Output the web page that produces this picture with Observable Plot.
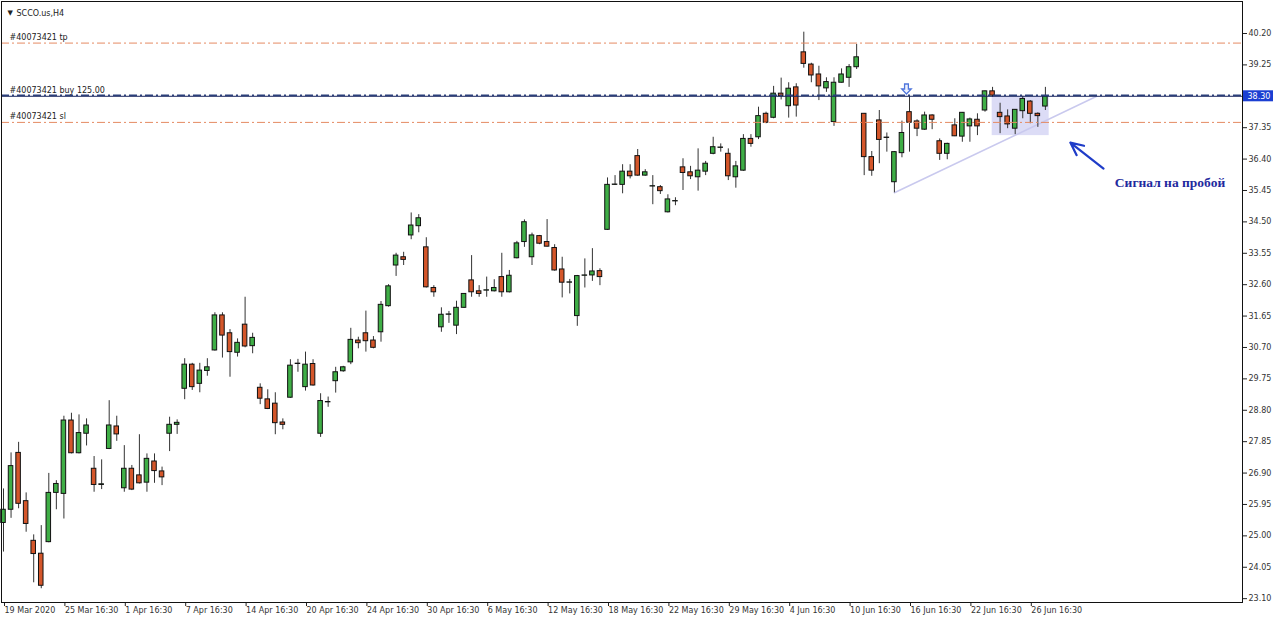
<!DOCTYPE html>
<html><head><meta charset="utf-8">
<script src="https://cdn.jsdelivr.net/npm/d3@7"></script>
<script src="https://cdn.jsdelivr.net/npm/@observablehq/plot@0.6"></script>
<style>html,body{margin:0;padding:0;background:#fff;} #chart svg{display:block}</style>
</head><body><div id="chart"></div>
<script>
const symbolTitle = "SCCO.us,H4";
const tickLabels = ["19 Mar 2020","25 Mar 16:30","1 Apr 16:30","7 Apr 16:30","14 Apr 16:30","20 Apr 16:30","24 Apr 16:30","30 Apr 16:30","6 May 16:30","12 May 16:30","18 May 16:30","22 May 16:30","29 May 16:30","4 Jun 16:30","10 Jun 16:30","16 Jun 16:30","22 Jun 16:30","26 Jun 16:30"];
const tickBars = [0,8,16,24,32,40,48,56,64,72,80,88,96,104,112,120,128,136];
const priceTicks = [23.10,24.05,25.00,25.95,26.90,27.85,28.80,29.75,30.70,31.65,32.60,33.55,34.50,35.45,36.40,37.35,38.30,39.25,40.20];

const open = [25.39,25.79,27.51,26.05,24.85,24.46,24.81,26.30,26.27,28.49,27.50,28.09,27.03,26.54,27.63,28.31,26.44,27.03,26.83,26.61,27.25,26.95,28.09,28.36,29.45,30.18,29.60,29.99,30.61,31.67,31.13,30.54,31.39,30.74,29.48,29.13,29.00,28.43,29.18,30.20,29.50,30.20,28.09,29.04,29.68,29.98,30.25,30.91,31.13,30.91,31.16,31.95,33.18,33.43,34.09,34.37,33.73,32.50,31.31,31.69,31.36,31.90,32.73,32.40,32.42,32.40,32.83,32.37,33.40,33.89,33.43,34.07,33.89,33.71,33.06,32.66,31.65,32.87,32.88,33.01,34.26,35.62,35.62,36.02,36.49,35.90,35.57,35.55,34.79,35.12,36.15,36.00,35.85,36.02,36.56,36.74,36.56,35.85,36.05,37.01,37.06,37.77,37.65,38.38,38.00,38.57,39.63,39.26,38.96,38.54,37.52,38.71,38.86,39.18,37.77,36.46,37.57,37.04,35.70,36.58,37.82,37.54,37.29,37.72,36.94,36.56,37.42,37.08,37.39,37.59,37.87,38.45,37.80,37.69,37.32,37.85,38.14,37.77,37.99];
const high = [26.42,27.51,27.83,26.30,25.03,25.31,26.89,26.67,28.62,28.71,28.66,28.54,27.40,27.30,29.09,28.62,27.73,27.13,28.06,27.48,27.48,27.08,28.59,28.51,30.36,30.22,30.22,30.36,31.75,31.75,31.24,30.96,32.22,31.13,29.60,29.42,29.33,28.54,30.33,30.34,30.56,30.33,29.30,29.20,30.10,30.13,31.28,31.01,31.80,31.03,32.09,32.60,33.55,33.58,34.77,34.72,34.02,32.57,31.90,31.79,32.10,32.33,33.48,32.57,32.83,32.75,33.55,33.03,33.91,34.56,34.16,34.09,34.57,33.81,33.43,32.76,32.88,33.38,33.69,33.08,35.83,35.90,36.23,36.23,36.69,36.08,35.90,35.60,35.32,35.23,36.41,36.18,36.71,36.33,37.06,36.86,36.71,36.33,37.14,37.14,37.97,37.82,38.60,38.85,38.71,38.68,40.24,39.30,39.21,38.86,38.86,39.13,39.26,39.87,37.78,36.63,37.87,37.19,36.63,37.55,38.29,37.59,37.82,37.74,37.01,36.88,37.62,37.81,37.64,37.77,38.46,38.57,38.09,37.89,37.90,38.30,38.17,37.80,38.57];
const low = [24.51,25.53,25.82,25.11,23.58,23.40,24.79,25.79,25.51,27.48,27.48,27.72,26.32,26.40,27.61,27.86,26.32,26.37,26.57,26.32,26.59,26.52,27.55,28.07,29.12,29.40,29.33,29.83,30.59,30.38,29.80,30.41,30.69,30.51,28.97,28.82,28.06,28.21,29.16,29.95,29.38,29.53,27.98,28.89,29.32,29.95,30.18,30.66,30.56,30.66,30.86,31.92,32.85,33.18,33.96,34.17,32.50,32.22,31.16,31.43,31.09,31.88,32.22,32.22,32.22,32.38,32.22,32.35,33.38,33.73,33.18,33.81,33.74,33.01,32.20,32.32,31.34,32.50,32.70,32.57,34.24,35.60,35.35,35.80,35.88,35.88,35.02,35.33,34.77,34.99,35.45,35.78,35.43,35.90,36.53,36.61,35.75,35.52,36.03,36.76,36.99,37.47,37.62,38.19,37.64,37.67,39.15,38.71,38.17,38.42,37.39,38.70,38.57,39.11,35.90,35.88,36.26,36.61,35.38,36.44,36.61,37.08,37.27,37.29,36.36,36.38,37.08,36.91,36.91,37.11,37.82,38.27,37.17,37.32,37.14,37.62,37.47,37.36,37.87];
const close = [25.79,27.11,25.97,25.36,24.45,23.49,26.30,26.57,28.49,27.50,28.11,28.34,26.54,26.56,28.34,28.07,27.03,26.40,26.59,27.33,26.96,26.77,28.36,28.42,30.18,29.50,30.00,30.10,31.67,31.06,30.56,30.84,30.73,30.99,29.15,28.84,28.41,28.36,30.15,30.21,30.18,29.55,29.08,29.05,29.95,30.10,30.93,30.83,30.89,30.69,31.99,32.55,33.48,33.35,34.39,34.61,32.52,32.37,31.69,31.70,31.90,32.32,32.37,32.32,32.43,32.50,32.37,32.87,33.85,34.49,34.09,33.84,33.75,33.03,32.66,32.67,32.86,32.88,33.00,32.83,35.62,35.63,36.02,35.88,35.90,36.00,35.58,35.43,35.18,35.13,35.98,35.88,36.05,36.26,36.76,36.75,35.88,36.18,37.01,36.86,37.70,37.50,38.38,38.30,38.53,38.02,39.28,38.93,38.60,38.73,38.71,38.96,39.18,39.48,36.46,36.05,36.98,37.05,36.61,37.19,37.50,37.32,37.72,37.59,36.56,36.86,37.09,37.80,37.60,37.39,38.45,38.32,37.67,37.45,37.89,38.22,37.77,37.70,38.30];

const orderLabels = ["#40073421 tp","#40073421 buy 125.00","#40073421 sl"];
const orderLevels = [39.91, 38.30, 37.51];
const currentPrice = 38.30;
const trendBars = [118, 144.8];
const trendPrices = [35.38, 38.30];
const zoneBars = [130.95, 138.5];
const zonePrices = [37.11, 38.30];
const signalBar = 119.6;
const signalPrice = 38.52;
const arrowBars = [145.7, 141.3];
const arrowPrices = [36.11, 36.90];
const noteText = "Сигнал на пробой";
const noteBar = 147.2;
const notePrice = 35.68;

const candles = open.map((o, i) => ({i, o, h: high[i], l: low[i], c: close[i]}));

const W = 1280, H = 622;
const mL = 1, mR = 38, mT = 1, mB = 20;
const barPx = 7.55, firstPx = 3;
const xDom = [(mL - firstPx) / barPx, (W - mR - firstPx) / barPx];
const pxPerUnit = 33.05, refPrice = 40.20, refPx = 33;
const yDom = [refPrice - (H - mB - refPx) / pxPerUnit, refPrice + (refPx - mT) / pxPerUnit];
const half = 0.3;
const green = "#3fae46", red = "#d4562a", orange = "#e58a62";

// hollow down-arrow symbol (trade marker)
const downArrow = {
  draw(ctx, size) {
    const s = Math.sqrt(size / Math.PI);
    const w = s * 0.38;
    ctx.moveTo(-w, -s);
    ctx.lineTo(w, -s);
    ctx.lineTo(w, 0);
    ctx.lineTo(s * 0.95, 0);
    ctx.lineTo(0, s);
    ctx.lineTo(-s * 0.95, 0);
    ctx.lineTo(-w, 0);
    ctx.closePath();
  }
};

const chart = Plot.plot({
  width: W, height: H,
  marginLeft: mL, marginRight: mR, marginTop: mT, marginBottom: mB,
  style: {fontFamily: "DejaVu Sans", fontSize: "8px", color: "#222", background: "#fff", overflow: "visible"},
  x: {type: "linear", domain: xDom},
  y: {type: "linear", domain: yDom},
  marks: [
    Plot.rect([0], {x1: zoneBars[0], x2: zoneBars[1], y1: zonePrices[0], y2: zonePrices[1], fill: "#dcdcf6"}),
    Plot.line([0, 1], {x: j => trendBars[j], y: j => trendPrices[j], stroke: "#c9c9ee", strokeWidth: 1.5}),
    Plot.ruleX(candles, {x: "i", y1: "l", y2: "h", stroke: "#333", strokeWidth: 1}),
    Plot.rect(candles, {x1: d => d.i - half, x2: d => d.i + half, y1: "o", y2: "c", fill: d => d.c >= d.o ? green : red, stroke: "#111", strokeWidth: 1}),
    Plot.ruleY([orderLevels[0], orderLevels[2]], {stroke: orange, strokeWidth: 1, strokeDasharray: "8,3,2,3"}),
    Plot.ruleY([currentPrice], {stroke: "#17245c", strokeWidth: 1}),
    Plot.ruleY([orderLevels[1]], {stroke: "#2b3f7a", strokeWidth: 1.5, strokeDasharray: "8,3,2,3", dy: -1}),
    Plot.text(orderLabels, {frameAnchor: "left", y: (d, j) => orderLevels[j], text: d => d, textAnchor: "start", dx: 8, dy: -6, fill: "#222", fontSize: 8}),
    Plot.dot([0], {x: signalBar, y: signalPrice, symbol: downArrow, r: 5, fill: "#eef2ff", stroke: "#4f75dc", strokeWidth: 1.3}),
    Plot.arrow([0], {x1: arrowBars[0], y1: arrowPrices[0], x2: arrowBars[1], y2: arrowPrices[1], stroke: "#1f3cc8", strokeWidth: 2.2, headLength: 11, headAngle: 50}),
    Plot.text([noteText], {x: noteBar, y: notePrice, text: d => d, textAnchor: "start", fill: "#1f2a9e", fontFamily: "Liberation Serif", fontWeight: "bold", fontSize: 13.5}),
    Plot.text(["▼"], {frameAnchor: "top-left", dx: 6, dy: 9, text: d => d, fontSize: 7, fill: "#222"}),
    Plot.text([symbolTitle], {frameAnchor: "top-left", dx: 15, dy: 9, text: d => d, textAnchor: "start", fontSize: 8, fill: "#222"}),
    Plot.axisY({anchor: "right", ticks: priceTicks, tickFormat: d => d.toFixed(2), tickSize: 4, tickPadding: 2, label: null, fill: "#333"}),
    Plot.rect([0], {x1: xDom[1], x2: xDom[1] + 31 / barPx, y1: currentPrice - 5.5 / pxPerUnit, y2: currentPrice + 5.5 / pxPerUnit, fill: "#1b3fd2"}),
    Plot.text([currentPrice], {x: xDom[1], y: d => d, text: d => d.toFixed(2), dx: 5, textAnchor: "start", fill: "#fff", fontSize: 8}),
    Plot.axisX({anchor: "bottom", ticks: tickBars, tickFormat: d => tickLabels[tickBars.indexOf(d)], textAnchor: "start", tickSize: 4, tickPadding: 1, dx: 1, label: null, fill: "#333"}),
    Plot.frame({stroke: "#111"})
  ]
});
document.getElementById("chart").appendChild(chart);
</script>
</body></html>
